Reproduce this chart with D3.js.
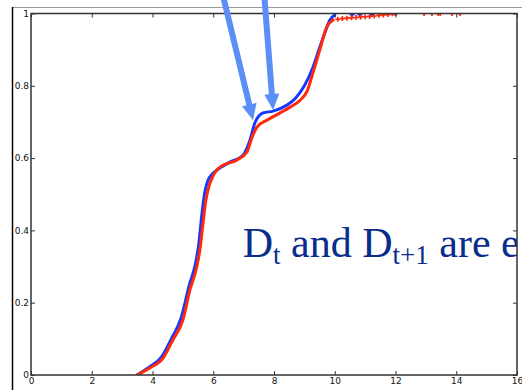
<!DOCTYPE html>
<html>
<head>
<meta charset="utf-8">
<script src="https://cdn.jsdelivr.net/npm/d3@7"></script>
<style>
  body { margin: 0; background: #fff; }
  .axis text { font-family: "DejaVu Sans", sans-serif; font-size: 9px; fill: #111; }
  .axis path { display: none; }
  .axis line { stroke: #333; }
</style>
</head>
<body>
<div id="chart"></div>
<script>
// Données
const xTicks = [0, 2, 4, 6, 8, 10, 12, 14, 16];
const yTicks = [0, 0.2, 0.4, 0.6, 0.8, 1];

// courbe bleue (D_t)
const blueX = [3.49, 3.9, 4.3, 4.62, 4.95, 5.2, 5.42, 5.52, 5.62, 5.72, 5.82, 5.97, 6.12, 6.55, 6.98, 7.21, 7.37, 7.64, 7.97, 8.43, 8.7, 9.0, 9.3, 9.5, 9.68, 9.84, 10.0];
const blueY = [0, 0.022, 0.05, 0.1, 0.16, 0.245, 0.31, 0.36, 0.44, 0.505, 0.537, 0.556, 0.567, 0.589, 0.608, 0.65, 0.697, 0.725, 0.73, 0.747, 0.765, 0.8, 0.855, 0.905, 0.948, 0.982, 0.996];
const blueTailX = [10.57, 10.83, 11.23, 12.0];
const blueTailY = [0.997, 0.997, 0.997, 1.0];

// courbe rouge (D_t+1)
const redX = [3.49, 3.92, 4.35, 4.67, 5.0, 5.23, 5.46, 5.56, 5.65, 5.75, 5.87, 6.02, 6.22, 6.78, 7.11, 7.28, 7.44, 7.77, 8.2, 8.53, 8.86, 9.09, 9.28, 9.51, 9.74, 9.95];
const redY = [0, 0.02, 0.047, 0.097, 0.152, 0.235, 0.3, 0.346, 0.41, 0.48, 0.525, 0.555, 0.575, 0.595, 0.617, 0.658, 0.686, 0.705, 0.725, 0.741, 0.76, 0.785, 0.835, 0.9, 0.963, 0.982];
const redTailX = [10.1, 10.25, 10.4, 10.55, 10.7, 10.85, 11.0, 11.15, 11.3, 11.45, 11.6, 11.75, 11.9, 12.0, 12.94, 13.2, 13.4, 13.47, 13.86, 14.12];
const redTailY = [0.984, 0.986, 0.987, 0.988, 0.989, 0.99, 0.991, 0.992, 0.993, 0.995, 0.996, 0.997, 0.999, 1.0, 1.0, 1.0, 1.0, 1.0, 1.0, 1.0];

// flèches (départ -> pointe, en unités des données)
const arrowFromX = [6.29, 7.67];
const arrowFromY = [1.06, 1.06];
const arrowToX = [7.31, 7.97];
const arrowToY = [0.705, 0.733];

const width = 522;
const height = 390;
const margin = { top: 13.5, right: 5, bottom: 15, left: 31 };
const chartWidth = width - margin.left - margin.right;
const chartHeight = height - margin.top - margin.bottom;

const svg = d3.select("#chart").append("svg")
  .attr("width", width)
  .attr("height", height);

// bords de la diapositive
svg.append("line")
  .attr("x1", 12).attr("x2", width).attr("y1", 7.5).attr("y2", 7.5)
  .attr("stroke", "#999").attr("stroke-width", 1);
svg.append("line")
  .attr("x1", 12.5).attr("x2", 12.5).attr("y1", 7).attr("y2", height)
  .attr("stroke", "#000").attr("stroke-width", 1.5);

const g = svg.append("g")
  .attr("transform", `translate(${margin.left},${margin.top})`);

const x = d3.scaleLinear().domain([0, 16]).range([0, chartWidth]);
const y = d3.scaleLinear().domain([0, 1]).range([chartHeight, 0]);

g.append("clipPath").attr("id", "plotClip")
  .append("rect").attr("width", chartWidth).attr("height", chartHeight);

const plot = g.append("g").attr("clip-path", "url(#plotClip)");

const line = d3.line()
  .x((d) => x(d[0]))
  .y((d) => y(d[1]))
  .curve(d3.curveMonotoneX);

const series = [
  { xs: blueX, ys: blueY, tx: blueTailX, ty: blueTailY, color: "#1438ff" },
  { xs: redX, ys: redY, tx: redTailX, ty: redTailY, color: "#ff2a0a" },
];

series.forEach((s) => {
  const pts = s.xs.map((v, i) => [v, s.ys[i]]);
  plot.append("path")
    .datum(pts)
    .attr("d", line)
    .attr("fill", "none")
    .attr("stroke", s.color)
    .attr("stroke-width", 3)
    .attr("stroke-linejoin", "round")
    .attr("stroke-linecap", "round");

  const tail = s.tx.map((v, i) => [v, s.ty[i]]);
  plot.selectAll(null)
    .data(tail)
    .enter()
    .append("path")
    .attr("transform", (d) => `translate(${x(d[0])},${y(d[1])})`)
    .attr("d", d3.symbol().type(d3.symbolCross).size(14))
    .attr("fill", s.color);
});

// texte (coupé par le cadre comme sur la diapositive)
const label = plot.append("text")
  .attr("x", x(6.97))
  .attr("y", y(0.326))
  .attr("fill", "#0a2d8c")
  .style("font-family", "'Liberation Serif', 'Times New Roman', serif")
  .style("font-size", "42px");
label.append("tspan").text("D");
label.append("tspan").attr("dy", 7).style("font-size", "27px").text("t");
label.append("tspan").attr("dy", -7).text(" and D");
label.append("tspan").attr("dy", 7).style("font-size", "27px").text("t+1");
label.append("tspan").attr("dy", -7).text(" are e");

// axes (graduations vers l'intérieur)
g.append("g").attr("class", "axis")
  .attr("transform", `translate(0,${chartHeight})`)
  .call(d3.axisBottom(x).tickValues(xTicks).tickSize(-4).tickPadding(3));
g.append("g").attr("class", "axis")
  .call(d3.axisTop(x).tickValues(xTicks).tickSize(-4).tickFormat(""));
g.append("g").attr("class", "axis")
  .call(d3.axisLeft(y).tickValues(yTicks).tickSize(-4).tickPadding(2).tickFormat(d3.format("~g")));
g.append("g").attr("class", "axis")
  .attr("transform", `translate(${chartWidth},0)`)
  .call(d3.axisRight(y).tickValues(yTicks).tickSize(-4).tickFormat(""));

// cadre
g.append("rect")
  .attr("width", chartWidth)
  .attr("height", chartHeight)
  .attr("fill", "none")
  .attr("stroke", "#333")
  .attr("stroke-width", 1.5);

// flèches
const arrows = arrowFromX.map((v, i) => ({
  x0: x(v), y0: y(arrowFromY[i]), x1: x(arrowToX[i]), y1: y(arrowToY[i]),
}));

g.selectAll(".arrow")
  .data(arrows)
  .enter()
  .append("path")
  .attr("class", "arrow")
  .attr("fill", "#5b8ef7")
  .attr("d", (d) => {
    const dx = d.x1 - d.x0, dy = d.y1 - d.y0;
    const len = Math.hypot(dx, dy);
    const ux = dx / len, uy = dy / len;
    const nx = -uy, ny = ux;
    const hl = 16, hw = 7.5, sw = 3;
    const bx = d.x1 - ux * hl, by = d.y1 - uy * hl;
    const p = [
      [d.x0 + nx * sw, d.y0 + ny * sw],
      [bx + nx * sw, by + ny * sw],
      [bx + nx * hw, by + ny * hw],
      [d.x1, d.y1],
      [bx - nx * hw, by - ny * hw],
      [bx - nx * sw, by - ny * sw],
      [d.x0 - nx * sw, d.y0 - ny * sw],
    ];
    return "M" + p.map((q) => q.join(",")).join("L") + "Z";
  });
</script>
</body>
</html>
